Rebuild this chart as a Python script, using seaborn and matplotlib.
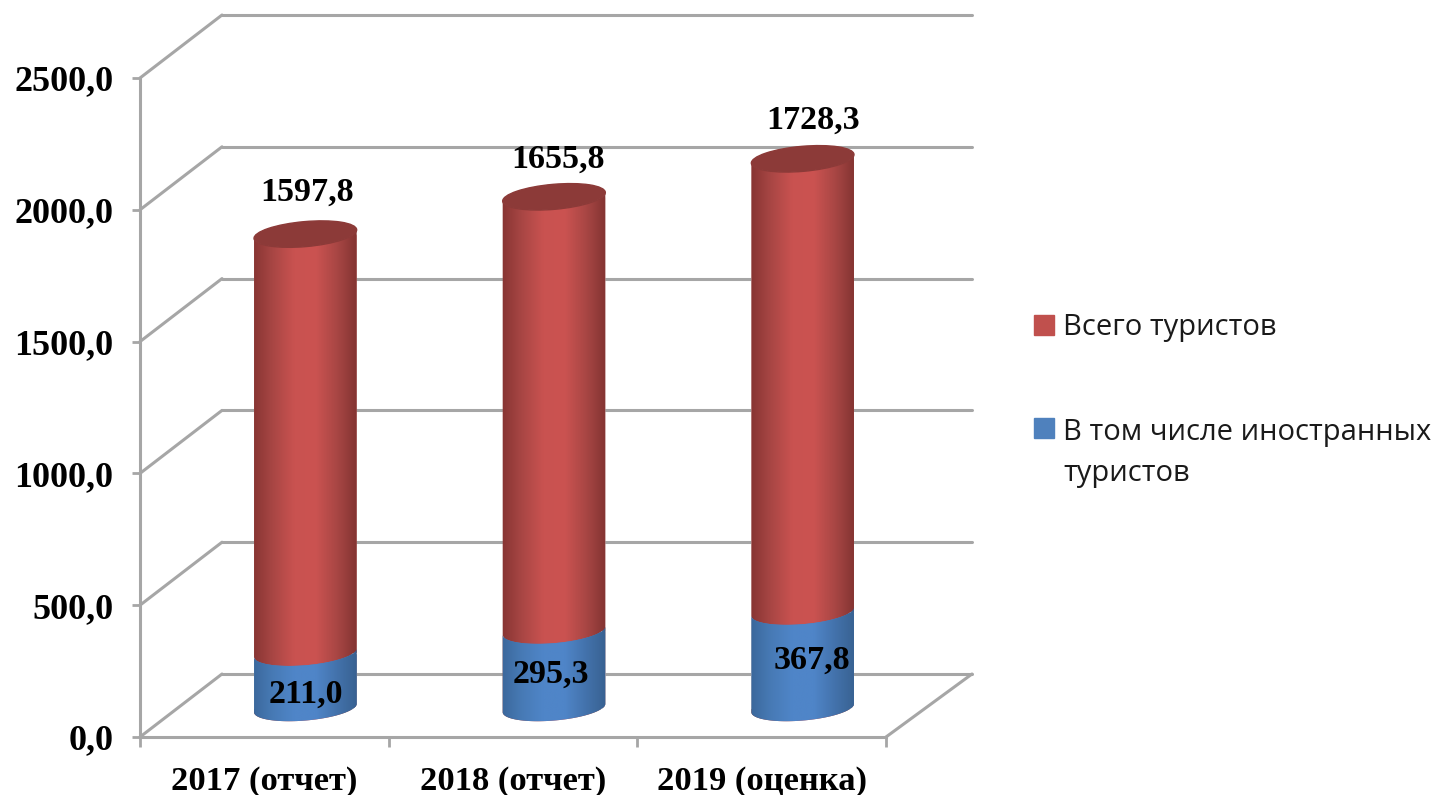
import matplotlib
matplotlib.use('Agg')
import matplotlib.pyplot as plt
import seaborn as sns
import numpy as np
from matplotlib.colors import LinearSegmentedColormap
from matplotlib.lines import Line2D
from matplotlib.patches import Ellipse
from matplotlib.path import Path
from matplotlib.transforms import IdentityTransform

years = ['2017 (отчет)', '2018 (отчет)', '2019 (оценка)']
all_tourists = [1597.8, 1655.8, 1728.3]
foreign_tourists = [211.0, 295.3, 367.8]
all_labels = ['1597,8', '1655,8', '1728,3']
foreign_labels = ['211,0', '295,3', '367,8']
value_ticks = [0, 500, 1000, 1500, 2000, 2500]
legend_names = ['Всего туристов', 'В том числе иностранных\nтуристов']

W, H = 1441, 795
GRAY = '#a6a6a6'
SERIF = 'Liberation Serif'

sns.set_style('white')
plt.rcParams['font.family'] = ['Open Sans', 'DejaVu Sans']


def rect(x0, top, x1, bottom):
    return [x0 / W, 1 - bottom / H, (x1 - x0) / W, (bottom - top) / H]


def lower_arc(cx, cy, a=51.5, b=12.5, deg=5.0):
    t = np.radians(np.linspace(180, 360, 60))
    th = np.radians(deg)
    x = cx + a * np.cos(t) * np.cos(th) - b * np.sin(t) * np.sin(th)
    y = cy + a * np.cos(t) * np.sin(th) + b * np.sin(t) * np.cos(th)
    return np.column_stack([x, y])


def shade(ax, patch, low, cmap, z):
    # cylinder body = lower arc at the base + lower arc at the top
    x0 = patch.get_x()
    x1 = x0 + patch.get_width()
    top = patch.get_height()
    cx, base_y = ax.transData.transform((x0 + patch.get_width() / 2, low))
    _, top_y = ax.transData.transform((x0, top))
    pts = np.vstack([lower_arc(cx, base_y), lower_arc(cx, top_y)[::-1]])
    body = Path(np.vstack([pts, pts[:1]]), closed=True)
    patch.set_clip_path(body, IdentityTransform())
    patch.set_zorder(z)
    im = ax.imshow(np.linspace(0, 1, 256)[None, :], cmap=cmap, aspect='auto',
                   extent=(x0 - 0.01, x1 + 0.01, low - 100, top + 10), zorder=z)
    im.set_clip_path(body, IdentityTransform())
    return cx, top_y


red_map = LinearSegmentedColormap.from_list('r', ['#843331', '#a84644', '#c95250', '#cb5351', '#a84644', '#7f3230'])
blue_map = LinearSegmentedColormap.from_list('b', ['#3a6699', '#477ab5', '#4f85c8', '#4f85c8', '#4372ab', '#37608f'])

fig = plt.figure(figsize=(W / 100, H / 100), dpi=100)

# back wall with the grid
back = fig.add_axes(rect(222, 15, 972, 674), zorder=0)
back.set_ylim(0, 2500)
back.set_xlim(0, 1)
back.set_xticks([])
back.set_yticks(value_ticks)
back.tick_params(left=False, labelleft=False)
back.grid(axis='y', color=GRAY, lw=2.2, clip_on=False)
sns.despine(ax=back, left=True, bottom=True)

# front axis
ax = fig.add_axes(rect(140, 78, 886, 737), zorder=1)
ax.patch.set_alpha(0)
ax.set_xlim(-0.5, 2.5)
ax.set_ylim(0, 2500)
ax.set_yticks(value_ticks)
ax.set_yticklabels([f'{v:.1f}'.replace('.', ',') for v in value_ticks],
                   family=SERIF, weight='bold', fontsize=26, color='black')
ax.set_xticks([-0.5, 0.5, 1.5, 2.5])
ax.set_xticklabels([])
ax.set_xticks(range(len(years)), years, minor=True, family=SERIF, weight='bold', fontsize=24.8, color='black')
ax.tick_params(axis='y', left=True, length=6, width=2, color=GRAY, pad=13)
ax.tick_params(axis='x', which='major', bottom=True, length=7, width=2, color=GRAY)
ax.tick_params(axis='x', which='minor', bottom=False, length=0, pad=21)
sns.despine(ax=ax)
for side in ['left', 'bottom']:
    ax.spines[side].set_color(GRAY)
    ax.spines[side].set_linewidth(2.2)

# diagonals joining the front axis with the back wall
for v in value_ticks:
    p0 = ax.transData.transform((-0.5, v))
    p1 = back.transData.transform((0, v))
    back.add_line(Line2D([p0[0], p1[0]], [p0[1], p1[1]], color=GRAY, lw=2.2,
                         transform=IdentityTransform(), clip_on=False))
p0 = ax.transData.transform((2.5, 0))
p1 = back.transData.transform((1, 0))
back.add_line(Line2D([p0[0], p1[0]], [p0[1], p1[1]], color=GRAY, lw=2.2,
                     transform=IdentityTransform(), clip_on=False))

# bars, half a depth behind the front axis
bars = fig.add_axes(rect(181, 53, 927, 734.2), zorder=2)
stacked = np.array(all_tourists) + np.array(foreign_tourists)
sns.barplot(x=years, y=stacked, color='#c0504d', saturation=1, width=0.414,
            label=legend_names[0], ax=bars, legend=False)
n_red = len(bars.patches)
sns.barplot(x=years, y=foreign_tourists, color='#4f81bd', saturation=1, width=0.414,
            label=legend_names[1], ax=bars, legend=False)
bars.set_xlim(-0.5, 2.5)
bars.set_ylim(-100, 2500)
bars.set_autoscale_on(False)
bars.axis('off')

for patch in bars.patches[:n_red]:
    cx, top_y = shade(bars, patch, 0, red_map, 3)
    bars.add_patch(Ellipse((cx, top_y), 103, 25, angle=5, color='#8c3a38', zorder=4,
                           transform=IdentityTransform()))
for patch in list(bars.patches[n_red:n_red + len(years)]):
    shade(bars, patch, 0, blue_map, 5)

all_offsets = [(1.5, 41.5), (3.5, 37.5), (10.5, 38.5)]
foreign_offsets = [(0.5, -41.5), (-3.5, -44), (9.5, -49)]
for i in range(len(years)):
    bars.annotate(all_labels[i], (i, stacked[i]), xytext=all_offsets[i], textcoords='offset pixels',
                  ha='center', va='center', family=SERIF, weight='bold', fontsize=24.5, color='black', zorder=6)
    bars.annotate(foreign_labels[i], (i, foreign_tourists[i]), xytext=foreign_offsets[i], textcoords='offset pixels',
                  ha='center', va='center', family=SERIF, weight='bold', fontsize=24.5, color='black', zorder=6)

handles = [Line2D([], [], ls='', marker='s', ms=14.5, color='#c0504d'),
           Line2D([], [], ls='', marker='s', ms=14.5, color='#4f81bd')]
fig.text(1063 / W, 1 - 328 / H, legend_names[0], fontsize=21, va='center', color='#1a1a1a')
fig.text(1063 / W, 1 - 453 / H, legend_names[1], fontsize=21, va='center', color='#1a1a1a', linespacing=1.55)
for h, y in zip(handles, [325, 428]):
    h.set_data([1044 / W], [1 - y / H])
    h.set_transform(fig.transFigure)
    fig.add_artist(h)

fig.savefig('out.png', dpi=100, facecolor='white')
